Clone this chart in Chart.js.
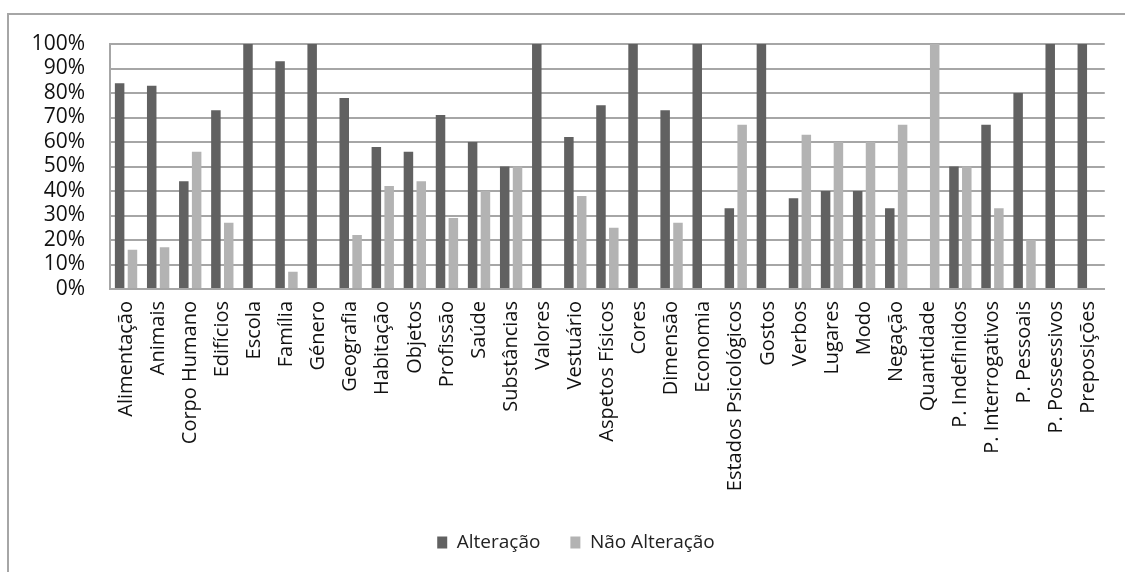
<!DOCTYPE html>
<html>
<head>
<meta charset="utf-8">
<script src="https://cdn.jsdelivr.net/npm/chart.js@4"></script>
<style>
  html, body { margin: 0; padding: 0; background: #ffffff; }
  #wrap { width: 1125px; height: 572px; position: relative; }
</style>
</head>
<body>
<div id="wrap"><canvas id="c" width="1125" height="572"></canvas></div>
<script>
const categories = ["Alimentação","Animais","Corpo Humano","Edifícios","Escola","Família","Género","Geografia","Habitação","Objetos","Profissão","Saúde","Substâncias","Valores","Vestuário","Aspetos Físicos","Cores","Dimensão","Economia","Estados Psicológicos","Gostos","Verbos","Lugares","Modo","Negação","Quantidade","P. Indefinidos","P. Interrogativos","P. Pessoais","P. Possessivos","Preposições"];
const alteracao =    [84, 83, 44, 73, 100, 93, 100, 78, 58, 56, 71, 60, 50, 100, 62, 75, 100, 73, 100, 33, 100, 37, 40, 40, 33, 0, 50, 67, 80, 100, 100];
const naoAlteracao = [16, 17, 56, 27, 0, 7, 0, 22, 42, 44, 29, 40, 50, 0, 38, 25, 0, 27, 0, 67, 0, 63, 60, 60, 67, 100, 50, 33, 20, 0, 0];
const yTicks = [0, 10, 20, 30, 40, 50, 60, 70, 80, 90, 100];

const frame = {
  id: 'frame',
  beforeDraw(chart) {
    const ctx = chart.ctx;
    ctx.save();
    ctx.fillStyle = '#ffffff';
    ctx.fillRect(0, 0, chart.width, chart.height);
    ctx.strokeStyle = '#a6a6a6';
    ctx.lineWidth = 2;
    ctx.beginPath();
    ctx.moveTo(8, chart.height);
    ctx.lineTo(8, 14);
    ctx.lineTo(chart.width, 14);
    ctx.stroke();
    ctx.restore();
  }
};

new Chart(document.getElementById('c'), {
  type: 'bar',
  data: {
    labels: categories,
    datasets: [
      { label: 'Alteração', data: alteracao, backgroundColor: '#616161', categoryPercentage: 0.8, barPercentage: 0.74 },
      { label: 'Não Alteração', data: naoAlteracao, backgroundColor: '#b3b3b3', categoryPercentage: 0.8, barPercentage: 0.74 }
    ]
  },
  options: {
    responsive: false,
    animation: false,
    layout: { padding: { left: 27, right: 0, top: 44, bottom: 10 } },
    plugins: {
      tooltip: { enabled: false },
      legend: {
        position: 'bottom',
        labels: {
          boxWidth: 10,
          boxHeight: 12,
          padding: 30,
          color: '#222',
          font: { family: 'Open Sans', size: 19 }
        }
      }
    },
    scales: {
      x: {
        grid: { display: false, drawTicks: false },
        border: { display: true, color: '#a6a6a6', width: 2 },
        afterFit(s) { s.height = 214; },
        ticks: {
          autoSkip: false,
          maxRotation: 90,
          minRotation: 90,
          padding: 12,
          color: '#111',
          font: { family: 'Open Sans', size: 20 }
        }
      },
      y: {
        min: 0,
        max: 100,
        afterFit(s) { s.width = 83; },
        afterBuildTicks(s) { s.ticks = yTicks.map(v => ({ value: v })); },
        grid: { color: '#a6a6a6', lineWidth: 2, drawTicks: false },
        border: { display: true, color: '#a6a6a6', width: 2 },
        ticks: {
          autoSkip: false,
          padding: 25,
          color: '#111',
          font: { family: 'Open Sans', size: 21 },
          callback: v => v + '%'
        }
      },
      yRight: {
        type: 'linear',
        position: 'right',
        display: true,
        afterFit(s) { s.width = 17; },
        grid: { display: false, drawTicks: false },
        border: { display: false },
        ticks: { display: false }
      }
    }
  },
  plugins: [frame]
});
</script>
</body>
</html>
